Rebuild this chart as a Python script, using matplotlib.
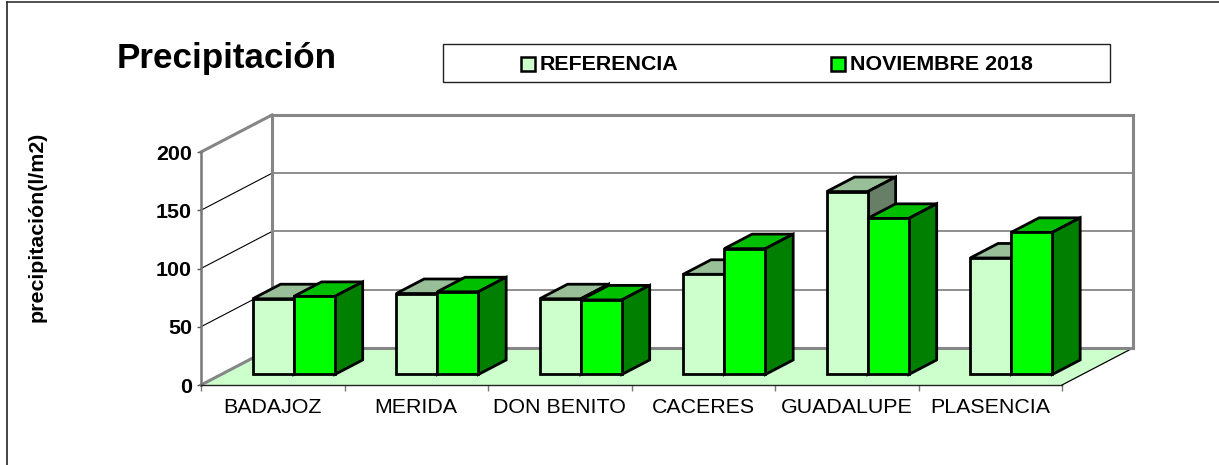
import matplotlib
matplotlib.use('Agg')
import matplotlib.pyplot as plt
from matplotlib.lines import Line2D
from matplotlib.patches import Polygon, Rectangle

plt.rcParams['font.family'] = ['Liberation Sans', 'DejaVu Sans']

estaciones = ['BADAJOZ', 'MERIDA', 'DON BENITO', 'CACERES', 'GUADALUPE', 'PLASENCIA']
referencia = [65, 69.5, 65, 86, 157, 100]
noviembre = [67, 71, 64, 108, 134, 122]
y_ticks = [0, 50, 100, 150, 200]

W, H = 1219, 465

# colores: frente, arriba, lado
color_ref = ('#CCFFCC', '#99BF99', '#667F66')
color_nov = ('#00FF00', '#00BF00', '#007F00')
GRIS = '#868686'

# desplazamiento de fondo del grafico 3d en unidades de datos
DX = 0.495
DY = 31.8


def proj(x, v, d):
    return (x + d * DX, v + d * DY)


def barra(ax, x, ancho, valor, colores, d0=0.284, d1=0.676, z=5):
    frente = [proj(x, 0, d0), proj(x + ancho, 0, d0), proj(x + ancho, valor, d0), proj(x, valor, d0)]
    arriba = [proj(x, valor, d0), proj(x + ancho, valor, d0), proj(x + ancho, valor, d1), proj(x, valor, d1)]
    lado = [proj(x + ancho, 0, d0), proj(x + ancho, 0, d1), proj(x + ancho, valor, d1), proj(x + ancho, valor, d0)]
    for pts, c in ((arriba, colores[1]), (lado, colores[2]), (frente, colores[0])):
        ax.add_patch(Polygon(pts, closed=True, facecolor=c, edgecolor='black', lw=2,
                             joinstyle='miter', clip_on=False, zorder=z))


def fx(px):
    return px / W


def fy(py):
    return 1 - py / H


fig = plt.figure(figsize=(W / 100, H / 100), dpi=100)
fig.patch.set_facecolor('white')

# marco exterior, solo arriba y a la izquierda
fig.add_artist(Line2D([fx(7), fx(7)], [fy(465), fy(2.5)], color='#444444', lw=1.4))
fig.add_artist(Line2D([fx(7), fx(1219)], [fy(2.5), fy(2.5)], color='#333333', lw=1.2))

ax = fig.add_axes([fx(201), fy(385), fx(861), 233 / H])
ax.set_xlim(0, 6)
ax.set_ylim(0, 200)
ax.patch.set_visible(False)

# suelo
ax.add_patch(Polygon([proj(0, 0, 0), proj(6, 0, 0), proj(6, 0, 1), proj(0, 0, 1)], closed=True,
                     facecolor='#CCFFCC', edgecolor='none', clip_on=False, zorder=1))
p0 = proj(6, 0, 0)
p1 = proj(6, 0, 1)
ax.plot([p0[0], p1[0]], [p0[1], p1[1]], color='black', lw=0.9, clip_on=False, zorder=2)

# rejilla de pared lateral y pared de fondo
for v in y_ticks:
    p0 = proj(0, v, 0)
    p1 = proj(0, v, 1)
    p2 = proj(6, v, 1)
    grueso = v in (0, 200)
    ax.plot([p0[0], p1[0]], [p0[1], p1[1]], color=GRIS if grueso else 'black',
            lw=2.2 if grueso else 0.8, clip_on=False, zorder=2)
    ax.plot([p1[0], p2[0]], [p1[1], p2[1]], color=GRIS, lw=2.2 if grueso else 1.3,
            clip_on=False, zorder=2)
for x in (0, 6):
    p1 = proj(x, 0, 1)
    p2 = proj(x, 200, 1)
    ax.plot([p1[0], p2[0]], [p1[1], p2[1]], color=GRIS, lw=2.2, clip_on=False, zorder=2)

# barras
for i in range(len(estaciones)):
    barra(ax, i + 0.220, 0.286, referencia[i], color_ref)
    barra(ax, i + 0.506, 0.286, noviembre[i], color_nov, z=6)

# ejes
for s in ('top', 'right'):
    ax.spines[s].set_visible(False)
ax.spines['left'].set_color('#777777')
ax.spines['left'].set_linewidth(1.8)
ax.spines['bottom'].set_color('#222222')
ax.spines['bottom'].set_linewidth(1)
ax.spines['left'].set_zorder(3)
ax.spines['bottom'].set_zorder(3)

ax.set_yticks(y_ticks)
ax.set_yticklabels([str(v) for v in y_ticks], fontsize=15.4, fontweight='bold')
ax.tick_params(axis='y', length=3, width=1, color='#555555', pad=3.5)

ax.set_xticks(range(7))
ax.set_xticklabels([])
ax.set_xticks([i + 0.5 for i in range(6)], minor=True)
ax.set_xticklabels(estaciones, minor=True, fontsize=15.4)
ax.tick_params(axis='x', which='major', length=4, width=1, color='#777777')
ax.tick_params(axis='x', which='minor', length=0, pad=9)

# titulos
fig.text(fx(117), fy(68), 'Precipitación', fontsize=25.2, fontweight='bold', va='baseline', ha='left')
fig.text(fx(37), fy(227), 'precipitación(l/m2)', fontsize=15.4, fontweight='bold', rotation=90,
         va='center', ha='center')

# leyenda
fig.add_artist(Rectangle((fx(443), fy(82)), fx(667), 38 / H, transform=fig.transFigure,
                         facecolor='white', edgecolor='#222222', lw=1))
fig.add_artist(Rectangle((fx(521), fy(71)), fx(14), 14 / H, transform=fig.transFigure,
                         facecolor=color_ref[0], edgecolor='black', lw=1.8))
fig.add_artist(Rectangle((fx(831), fy(71)), fx(14), 14 / H, transform=fig.transFigure,
                         facecolor=color_nov[0], edgecolor='black', lw=1.8))
fig.text(fx(540), fy(70), 'REFERENCIA', fontsize=15.4, fontweight='bold', va='baseline', ha='left')
fig.text(fx(850), fy(70), 'NOVIEMBRE 2018', fontsize=15.4, fontweight='bold', va='baseline', ha='left')

fig.savefig('out.png', dpi=100, facecolor='white')
